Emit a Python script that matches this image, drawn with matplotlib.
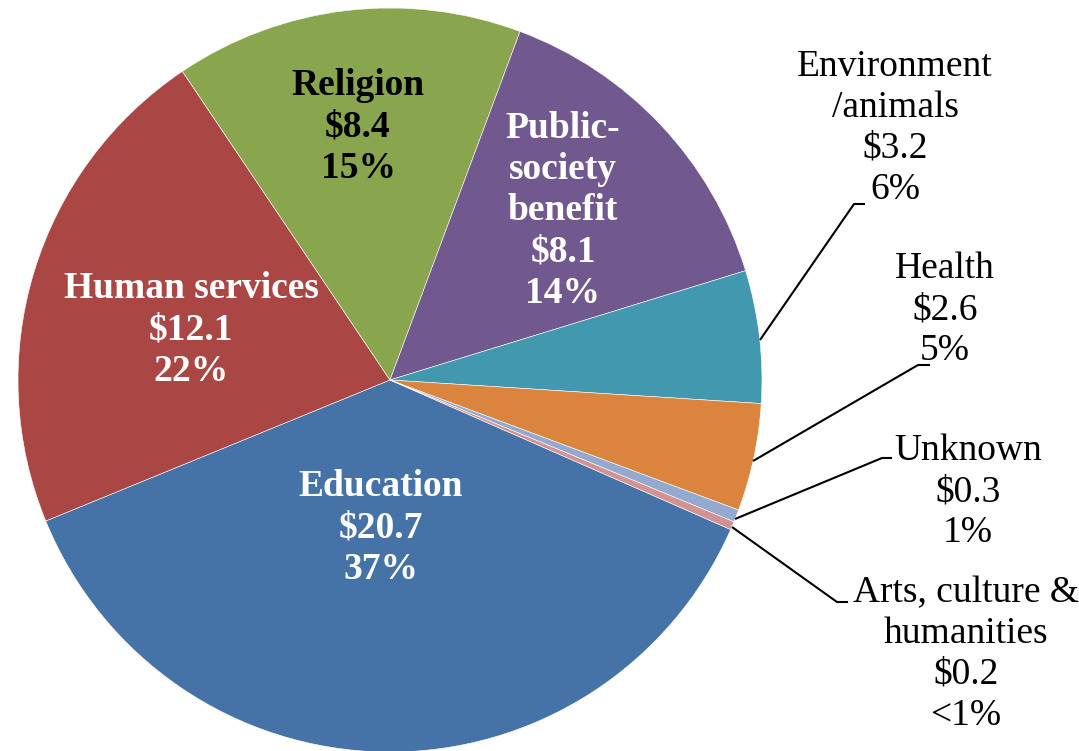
import matplotlib
matplotlib.use("Agg")
import matplotlib.pyplot as plt

categories = ["Education", "Human services", "Religion", "Public-society benefit",
              "Environment/animals", "Health", "Unknown", "Arts, culture & humanities"]
values = [20.7, 12.1, 8.4, 8.1, 3.2, 2.6, 0.3, 0.2]
pct_labels = ["37%", "22%", "15%", "14%", "6%", "5%", "1%", "<1%"]
label_names = ["Education", "Human services", "Religion", "Public-\nsociety\nbenefit",
               "Environment\n/animals", "Health", "Unknown", "Arts, culture &\nhumanities"]
colors = ["#4572A7", "#AA4643", "#89A54E", "#71588F", "#4198AF", "#DB843D", "#93A9CF", "#D19392"]

W, H = 1079, 751
CX, CY, R = 390, 380, 372

fig = plt.figure(figsize=(W / 100, H / 100), dpi=100)
ax = fig.add_axes([0, 0, 1, 1])

ax.pie(values, colors=colors, startangle=-23.7, counterclock=False, radius=1.0,
       wedgeprops=dict(edgecolor="white", linewidth=0.4))

ax.set_aspect("auto")
ax.set_xlim(-CX / R, (W - CX) / R)
ax.set_ylim(-(H - CY) / R, CY / R)
ax.axis("off")


def P(px, py):
    return ((px - CX) / R, (CY - py) / R)


font = "Liberation Serif"
fs = 27
ls = 1.24

# inside labels (bold)
inside = {0: (381, 528, "white"), 1: (191, 330, "white"), 2: (358, 127, "black"), 3: (563, 211, "white")}
for i, (px, py, c) in inside.items():
    txt = f"{label_names[i]}\n${values[i]:.1f}\n{pct_labels[i]}"
    ax.text(*P(px, py), txt, ha="center", va="center", fontsize=fs, fontweight="bold",
            color=c, family=font, linespacing=ls)

# outside labels with leader lines
outside = {
    4: ((895, 128), [(760, 340), (854, 204), (865, 204)]),
    5: ((945, 310), [(753, 461), (918, 365), (930, 365)]),
    6: ((968, 492), [(735, 519), (882, 458), (892, 458)]),
    7: ((966, 654), [(732, 527), (837, 602), (848, 602)]),
}
for i, ((px, py), pts) in outside.items():
    txt = f"{label_names[i]}\n${values[i]:.1f}\n{pct_labels[i]}"
    ax.text(*P(px, py), txt, ha="center", va="center", fontsize=fs,
            color="black", family=font, linespacing=ls)
    xs = [P(a, b)[0] for a, b in pts]
    ys = [P(a, b)[1] for a, b in pts]
    ax.plot(xs, ys, color="black", linewidth=1.5, solid_capstyle="butt")

fig.savefig("out.png", dpi=100)
